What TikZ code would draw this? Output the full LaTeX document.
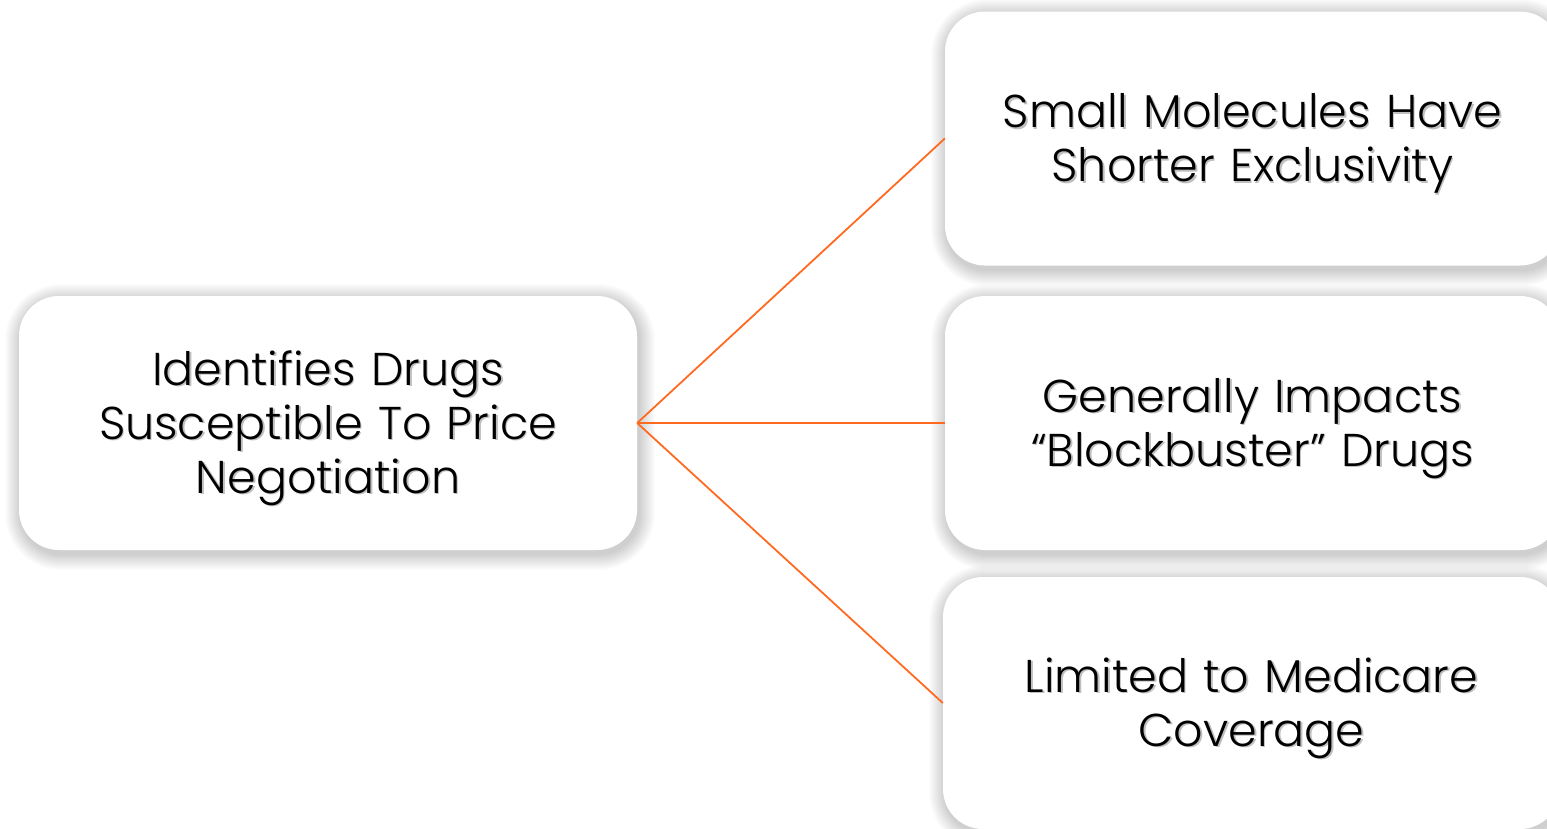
\documentclass[tikz,border=0pt]{standalone}
\usepackage{fontspec}
\setmainfont{Poppins Light}
\definecolor{linkorange}{HTML}{FF6A21}
% text with a soft grey drop shadow behind it
\newcommand\shadowed[1]{\leavevmode\rlap{\kern1.6pt\raisebox{-1.6pt}{\textcolor{black!25}{#1}}}#1}

\begin{document}
\begin{tikzpicture}[x=1pt,y=-1pt,
  card/.style={fill=white, draw=none, rounded corners=40pt, inner sep=0pt,
    minimum height=254pt, text width=590pt, align=center,
    font=\fontsize{46}{54}\selectfont,
    execute at begin node={\rule{0pt}{46pt}}},
  link/.style={draw=linkorange, line width=1.8pt}]
\useasboundingbox (0,0) rectangle (1547,828);
\clip (0,0) rectangle (1547,828);
\fill[white] (0,0) rectangle (1547,828);

% soft shadows under the cards, built from stacked translucent rounded boxes
\newcommand\cardshadow[4]{%
  \foreach \k in {1,...,16}{
    \fill[black, opacity=0.012, rounded corners={40+\k}]
      ({#1-\k+2},{#2-\k+4}) rectangle ({#3+\k+2},{#4+\k+4});
  }}
\cardshadow{19}{296}{637}{550}
\cardshadow{945}{11}{1560}{266}
\cardshadow{945}{296}{1560}{550}
\cardshadow{943}{577}{1560}{829}

\node[card, minimum width=618pt] (src) at (328,423)
  {\shadowed{Identifies Drugs}\\\shadowed{Susceptible To Price}\\\shadowed{Negotiation}};
\node[card, minimum width=615pt] (t1) at (1252.5,138.5)
  {\shadowed{Small Molecules Have}\\\shadowed{Shorter Exclusivity}};
\node[card, minimum width=615pt] (t2) at (1252.5,423)
  {\shadowed{Generally Impacts}\\\shadowed{“Blockbuster” Drugs}};
\node[card, minimum width=617pt, minimum height=252pt] (t3) at (1251.5,703)
  {\shadowed{Limited to Medicare}\\\shadowed{Coverage}};

\draw[link] (src.east) -- (t1.west);
\draw[link] (src.east) -- (t2.west);
\draw[link] (src.east) -- (t3.west);
\end{tikzpicture}
\end{document}
